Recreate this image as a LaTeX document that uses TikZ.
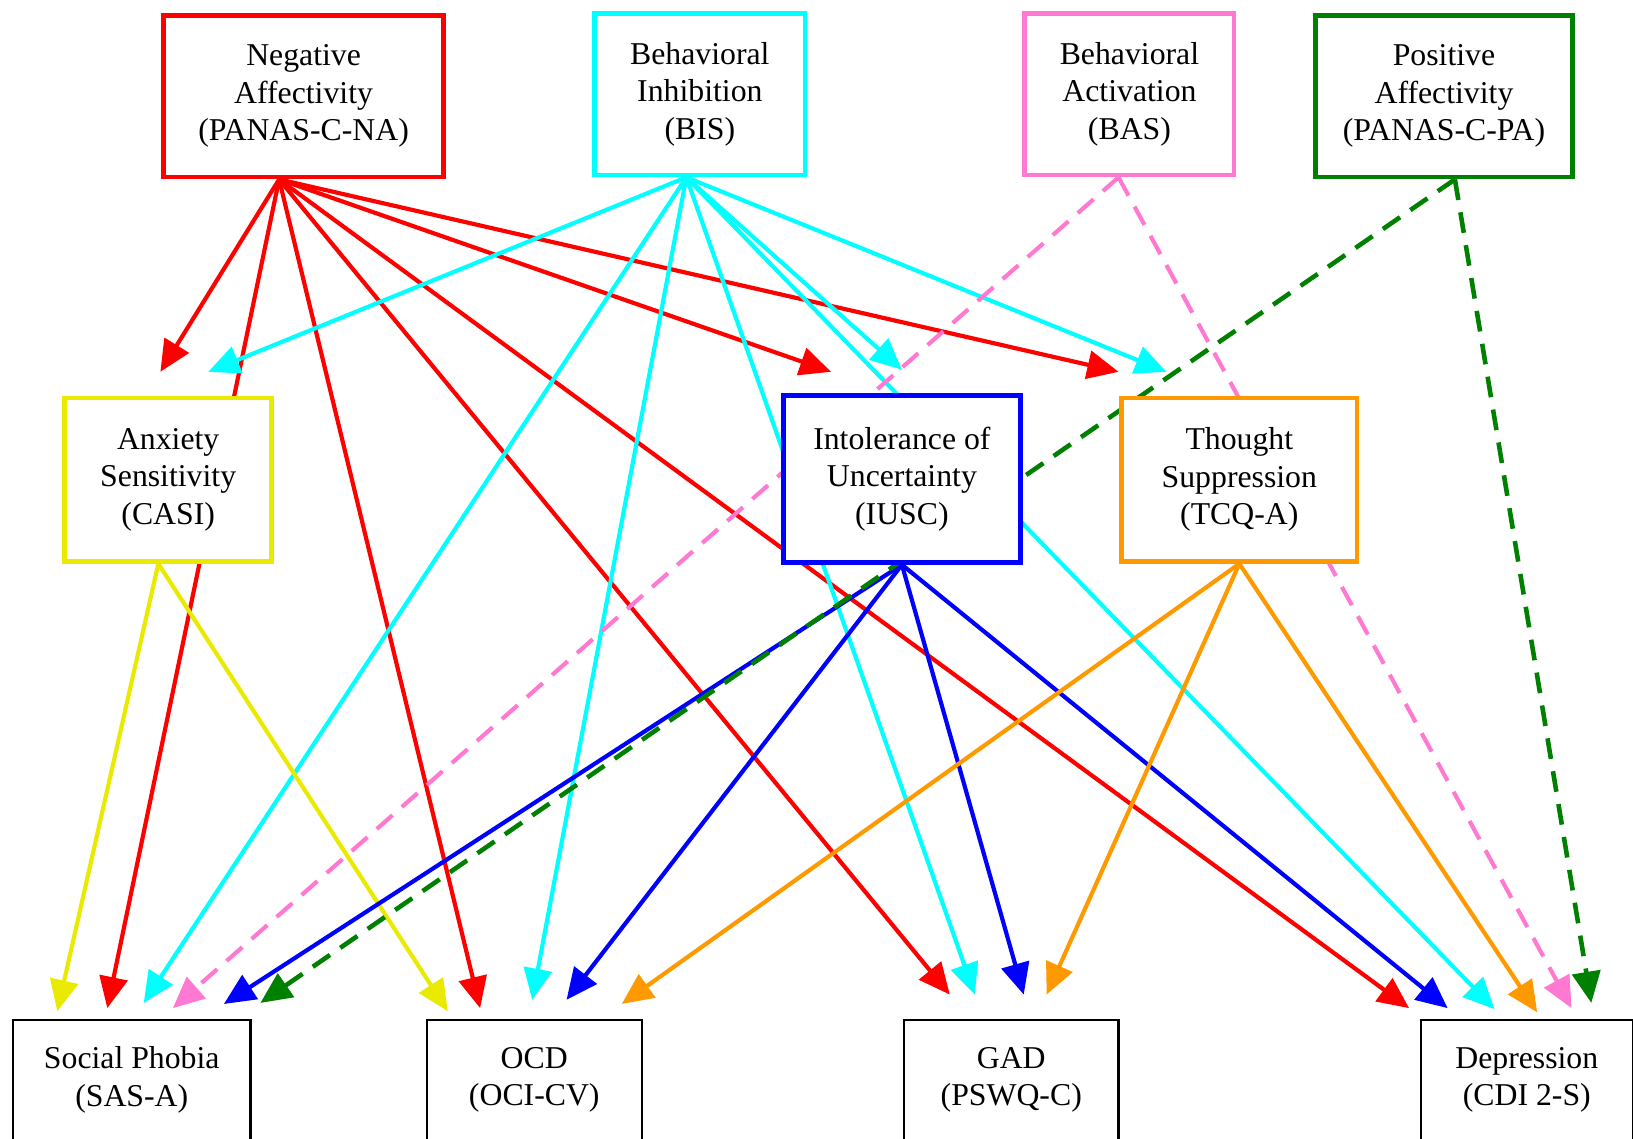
\documentclass[tikz,border=0pt]{standalone}
\usepackage{fontspec}
\setmainfont{Liberation Serif}
\usetikzlibrary{arrows.meta,backgrounds}
\definecolor{nared}{HTML}{FF0000}
\definecolor{biscyan}{HTML}{00FFFF}
\definecolor{baspink}{HTML}{FF78D2}
\definecolor{pagreen}{HTML}{008000}
\definecolor{asyellow}{HTML}{EAEA00}
\definecolor{iublue}{HTML}{0000FF}
\definecolor{tcorange}{HTML}{FF9900}
\begin{document}
\begin{tikzpicture}[x=1pt,y=-1pt,
  box/.style={draw, fill=white, line width=4.5pt, align=center, inner sep=0pt,
    font=\fontsize{30.5}{36}\selectfont},
  outbox/.style={draw=black, fill=white, line width=2pt, align=center, inner sep=0pt,
    minimum height=116pt, font=\fontsize{30.5}{36}\selectfont},
  edge/.style={line width=4pt, -{Triangle[length=30pt,width=27pt]}},
  dashedge/.style={edge, dash pattern=on 20pt off 12pt},
]
\useasboundingbox (0,0) rectangle (1568,1093);
\clip (0,0) rectangle (1568,1093);

% top row
\node[box, draw=nared, minimum width=269pt, minimum height=155pt] (na) at (291.5,92.5) {Negative\\Affectivity\\(PANAS-C-NA)};
\node[box, draw=biscyan, minimum width=202pt, minimum height=155pt] (bis) at (672,90.5) {Behavioral\\Inhibition\\(BIS)};
\node[box, draw=baspink, minimum width=201pt, minimum height=155pt] (bas) at (1084.5,90.5) {Behavioral\\Activation\\(BAS)};
\node[box, draw=pagreen, minimum width=247pt, minimum height=155pt] (pa) at (1386.5,92.5) {Positive\\Affectivity\\(PANAS-C-PA)};
% middle row
\node[box, draw=asyellow, minimum width=199pt, minimum height=157pt] (casi) at (161.5,460.5) {Anxiety\\Sensitivity\\(CASI)};
\node[box, draw=iublue, minimum width=228pt, minimum height=160pt] (iu) at (866,460) {Intolerance of\\Uncertainty\\(IUSC)};
\node[box, draw=tcorange, minimum width=226pt, minimum height=157pt] (tcq) at (1190,460.5) {Thought\\Suppression\\(TCQ-A)};
% bottom row
\node[outbox, minimum width=228pt] (sas) at (126.5,1037) {Social Phobia\\(SAS-A)};
\node[outbox, minimum width=206pt] (ocd) at (513,1037) {OCD\\(OCI-CV)};
\node[outbox, minimum width=206pt] (gad) at (971,1037) {GAD\\(PSWQ-C)};
\node[outbox, minimum width=204pt] (dep) at (1466,1037) {Depression\\(CDI 2-S)};

% source points
\coordinate (sNA) at ([xshift=-23.5pt]na.south);
\coordinate (sBIS) at ([xshift=-13pt]bis.south);
\coordinate (sBAS) at ([xshift=-10.5pt]bas.south);
\coordinate (sPA) at ([xshift=10.5pt]pa.south);
\coordinate (sCASI) at ([xshift=-9.5pt]casi.south);
\coordinate (sIU) at (iu.south);
\coordinate (sTCQ) at (tcq.south);

% arrow tips
\coordinate (naCasi) at (154,357);
\coordinate (naSas) at (103,968);
\coordinate (naOcd) at (461,968);
\coordinate (naGad) at (912,955);
\coordinate (naIu) at (798,357);
\coordinate (naDep) at (1353,968);
\coordinate (naTcq) at (1074,357);
\coordinate (bisCasi) at (200,357);
\coordinate (bisSas) at (138,963);
\coordinate (bisOcd) at (511,960);
\coordinate (bisGad) at (936,955);
\coordinate (bisIu) at (866,355);
\coordinate (bisTcq) at (1120,357);
\coordinate (bisDep) at (1435,969);
\coordinate (basSas) at (166,968);
\coordinate (basDep) at (1509,968);
\coordinate (paSas) at (250,963);
\coordinate (paDep) at (1528,963);
\coordinate (casiSas) at (55,971);
\coordinate (casiOcd) at (430,971);
\coordinate (iuSas) at (215,964);
\coordinate (iuOcd) at (544,960);
\coordinate (iuGad) at (983,955);
\coordinate (iuDep) at (1390,968);
\coordinate (tcqOcd) at (597,964);
\coordinate (tcqGad) at (1005,955);
\coordinate (tcqDep) at (1476,972);

\begin{scope}[on background layer]
\foreach \t in {naCasi,naSas,naOcd,naGad,naIu,naDep,naTcq}
  \draw[edge, nared] (sNA) -- (\t);
\foreach \t in {bisCasi,bisSas,bisOcd,bisGad,bisIu,bisTcq,bisDep}
  \draw[edge, biscyan] (sBIS) -- (\t);
\foreach \t in {casiSas,casiOcd}
  \draw[edge, asyellow] (sCASI) -- (\t);
\foreach \t in {iuSas,iuOcd,iuGad,iuDep}
  \draw[edge, iublue] (sIU) -- (\t);
\foreach \t in {tcqOcd,tcqGad,tcqDep}
  \draw[edge, tcorange] (sTCQ) -- (\t);
\foreach \t in {basSas,basDep}
  \draw[dashedge, baspink] (sBAS) -- (\t);
\foreach \t in {paSas,paDep}
  \draw[dashedge, pagreen, line width=4.4pt] (sPA) -- (\t);
\end{scope}
\end{tikzpicture}
\end{document}
